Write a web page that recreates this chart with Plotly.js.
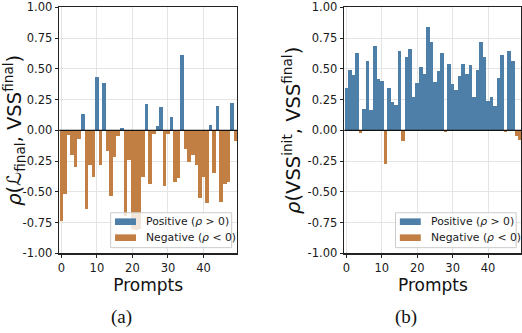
<!DOCTYPE html>
<html>
<head>
<meta charset="utf-8">
<script src="https://cdn.plot.ly/plotly-3.0.1.min.js"></script>
<style>html,body{margin:0;padding:0;background:#fff;}#chart{width:522px;height:333px;}</style>
</head>
<body>
<div id="chart"></div>
<script>
// ---- data ----
const prompts = [0,1,2,3,4,5,6,7,8,9,10,11,12,13,14,15,16,17,18,19,20,21,22,23,24,25,26,27,28,29,30,31,32,33,34,35,36,37,38,39,40,41,42,43,44,45,46,47,48,49];
// (a) rho(L_final, VSS_final)
const lossVssCorr = [-0.74,-0.515,-0.04,-0.20,-0.30,-0.07,0.13,-0.64,-0.28,-0.38,
                     0.43,-0.28,0.385,-0.17,-0.53,-0.22,-0.05,0.02,-0.70,-0.24,
                     -0.80,-0.81,-0.80,-0.38,0.21,-0.44,-0.03,0.035,0.19,-0.45,
                     -0.03,0.11,-0.42,-0.385,0.61,-0.15,-0.255,-0.20,-0.28,-0.55,
                     -0.38,-0.59,0.045,-0.35,0.20,-0.58,-0.44,-0.42,0.22,-0.085];
// (b) rho(VSS_init, VSS_final)
const initFinalCorr = [0.344,0.49,0.45,0.63,-0.02,0.17,0.56,0.165,0.685,0.42,
                       0.40,-0.27,0.344,0.23,0.206,0.645,-0.084,0.60,0.66,0.27,
                       0.385,0.515,0.458,0.84,0.718,0.395,0.48,0.63,-0.01,0.54,
                       0.377,0.33,0.44,0.54,0.458,0.53,0.27,0.49,0.718,0.596,
                       0.24,0.27,0.198,0.425,0.61,-0.01,0.645,0.56,-0.05,-0.075];
const xTickVals = [0,10,20,30,40];
const yTickVals = [-1,-0.75,-0.5,-0.25,0,0.25,0.5,0.75,1];
const yTickText = ['-1.00','-0.75','-0.50','-0.25','0.00','0.25','0.50','0.75','1.00'];
const seriesNames = ['Positive (<i>ρ</i> &gt; 0)','Negative (<i>ρ</i> &lt; 0)'];
const panelLabels = ['(a)','(b)'];
const yTitles = ['<i>ρ</i>(ℒ<sub>final</sub>, VSS<sup>final</sup>)','<i>ρ</i>(VSS<sup>init</sup>, VSS<sup>final</sup>)'];

// ---- styling ----
const BLUE = '#4e7fa8', ORANGE = '#c17f44';
const FONT = 'DejaVu Sans, Verdana, sans-serif';

function splitSign(vals){
  return {
    pos: vals.map(v => v > 0 ? v : null),
    neg: vals.map(v => v < 0 ? v : null)
  };
}

const traces = [];
[lossVssCorr, initFinalCorr].forEach((vals, k) => {
  const s = splitSign(vals);
  const xa = k === 0 ? 'x' : 'x2', ya = k === 0 ? 'y' : 'y2';
  traces.push({type:'bar', x:prompts, y:s.pos, width:1, marker:{color:BLUE, line:{width:0}}, name:seriesNames[0], xaxis:xa, yaxis:ya, showlegend:false});
  traces.push({type:'bar', x:prompts, y:s.neg, width:1, marker:{color:ORANGE, line:{width:0}}, name:seriesNames[1], xaxis:xa, yaxis:ya, showlegend:false});
});

function xAxis(domain, anchor){
  return {domain:domain, anchor:anchor, range:[-0.6,49.45], tickvals:xTickVals,
    ticks:'outside', ticklen:3.5, tickwidth:1, tickcolor:'#222',
    showgrid:true, gridcolor:'#e4e4e4', gridwidth:1, zeroline:false,
    showline:true, mirror:true, linecolor:'#222', linewidth:1.2,
    tickfont:{family:FONT, size:11.5, color:'#1a1a1a'},
    title:{text:'Prompts', font:{family:FONT, size:17, color:'#111'}, standoff:0}};
}
function yAxis(anchor, title){
  return {domain:[0.2393,0.978], anchor:anchor, range:[-1,1], tickvals:yTickVals, ticktext:yTickText,
    ticks:'outside', ticklen:3.5, tickwidth:1, tickcolor:'#222',
    showgrid:true, gridcolor:'#e4e4e4', gridwidth:1, zeroline:false,
    showline:true, mirror:true, linecolor:'#222', linewidth:1.2,
    tickfont:{family:FONT, size:11.5, color:'#1a1a1a'},
    title:{text:title, font:{family:FONT, size:19.5, color:'#111'}, standoff:1}};
}

const shapes = [], annotations = [];
[['x','y'],['x2','y2']].forEach((ax, k) => {
  const xd = ax[0] + ' domain', yd = ax[1] + ' domain';
  // zero reference line
  shapes.push({type:'line', xref:xd, yref:ax[1], x0:0, x1:1, y0:0, y1:0, line:{color:'#111', width:1.3}, layer:'above'});
  // legend box
  shapes.push({type:'rect', xref:xd, yref:yd, x0:0.289, x1:0.970, y0:0.023, y1:0.165,
    fillcolor:'rgba(255,255,255,0.8)', line:{color:'#cccccc', width:1}, layer:'above'});
  shapes.push({type:'rect', xref:xd, yref:yd, x0:0.3135, x1:0.4316, y0:0.115, y1:0.142,
    fillcolor:BLUE, line:{width:0}, layer:'above'});
  shapes.push({type:'rect', xref:xd, yref:yd, x0:0.3135, x1:0.4316, y0:0.050, y1:0.077,
    fillcolor:ORANGE, line:{width:0}, layer:'above'});
  annotations.push({xref:xd, yref:yd, x:0.478, y:0.128, xanchor:'left', yanchor:'middle', showarrow:false,
    text:seriesNames[0], font:{family:FONT, size:10.8, color:'#1a1a1a'}});
  annotations.push({xref:xd, yref:yd, x:0.478, y:0.063, xanchor:'left', yanchor:'middle', showarrow:false,
    text:seriesNames[1], font:{family:FONT, size:10.8, color:'#1a1a1a'}});
});
annotations.push({xref:'paper', yref:'paper', x:0.2331, y:0.048, xanchor:'center', yanchor:'middle', showarrow:false,
  text:panelLabels[0], font:{family:'Liberation Serif, Times New Roman, serif', size:19, color:'#111'}});
annotations.push({xref:'paper', yref:'paper', x:0.7778, y:0.048, xanchor:'center', yanchor:'middle', showarrow:false,
  text:panelLabels[1], font:{family:'Liberation Serif, Times New Roman, serif', size:19, color:'#111'}});

const layout = {
  width:522, height:333, margin:{l:0, r:0, t:0, b:0},
  paper_bgcolor:'#ffffff', plot_bgcolor:'#ffffff',
  font:{family:FONT, size:10, color:'#222'},
  showlegend:false, bargap:0, barmode:'overlay',
  xaxis:xAxis([0.1136,0.4540],'y'),
  yaxis:yAxis('x', yTitles[0]),
  xaxis2:xAxis([0.6596,0.9990],'y2'),
  yaxis2:yAxis('x2', yTitles[1]),
  shapes:shapes, annotations:annotations
};

Plotly.newPlot('chart', traces, layout, {staticPlot:true, displayModeBar:false});
</script>
</body>
</html>
